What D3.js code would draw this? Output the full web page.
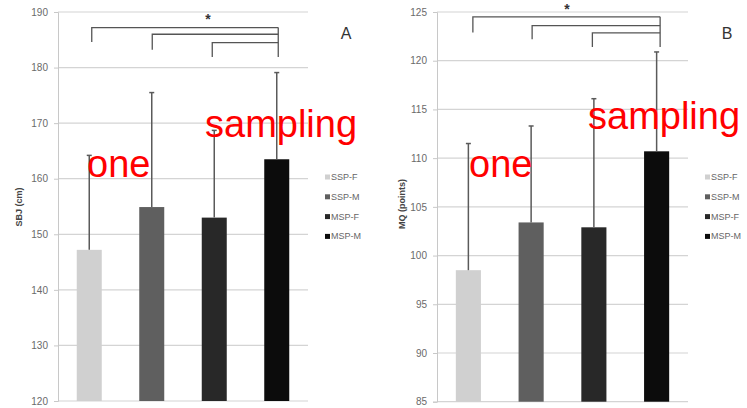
<!DOCTYPE html>
<html><head><meta charset="utf-8">
<script src="https://cdn.jsdelivr.net/npm/d3@7"></script>
<style>body{margin:0;background:#fff}svg{display:block}</style>
</head><body>
<svg id="c" width="747" height="408"></svg>
<script>
const categories = ["SSP-F","SSP-M","MSP-F","MSP-M"];
const colors = ["#d0d0d0","#5f5f5f","#282828","#0c0c0c"];
const sbjMeans = [147.2, 154.9, 153.0, 163.5];
const sbjSD = [17.0, 20.6, 15.7, 15.6];
const sbjTicks = [120,130,140,150,160,170,180,190];
const mqMeans = [98.5, 103.4, 102.9, 110.7];
const mqSD = [13.0, 9.9, 13.2, 10.2];
const mqTicks = [85,90,95,100,105,110,115,120,125];
// bracket annotations: [from category, to category, level value, left-leg end value]
const sbjBrackets = [[0,3,187.2,184.6],[1,3,186.0,183.2],[2,3,184.5,181.9]];
const mqBrackets = [[0,3,124.5,122.9],[1,3,123.6,122.2],[2,3,122.85,121.4]];
const overlayWords = ["one","sampling"];

const svg = d3.select("#c");
const FONT = "'Liberation Sans', Arial, sans-serif";

function panel(o){
  const x = d3.scaleBand().domain(categories).range([o.x0,o.x1]).paddingInner(0.6).paddingOuter(0.3);
  const y = d3.scaleLinear().domain(o.domain).range([o.y0,o.y1]);
  const g = svg.append("g");
  g.selectAll(".grid").data(o.ticks).join("line")
    .attr("x1",o.x0).attr("x2",o.x1).attr("y1",d=>y(d)).attr("y2",d=>y(d))
    .attr("stroke","#d4d4d4").attr("stroke-width",1.2);
  const ax = g.append("g").attr("transform",`translate(${o.x0},0)`)
    .call(d3.axisLeft(y).tickValues(o.ticks).tickSize(4).tickPadding(6));
  ax.select(".domain").attr("stroke","#c8c8c8");
  ax.selectAll(".tick line").attr("stroke","#c8c8c8");
  ax.selectAll("text").attr("fill","#6a6a6a").style("font-family",FONT).style("font-size","10px");
  g.selectAll(".bar").data(o.means).join("rect")
    .attr("x",(d,i)=>x(categories[i])).attr("width",x.bandwidth())
    .attr("y",d=>y(d)).attr("height",d=>y(o.domain[0])-y(d))
    .attr("fill",(d,i)=>colors[i]);
  const cx = i=>x(categories[i])+x.bandwidth()/2;
  o.means.forEach((m,i)=>{
    g.append("line").attr("x1",cx(i)).attr("x2",cx(i)).attr("y1",y(m)).attr("y2",y(m+o.sd[i]))
      .attr("stroke","#5a5a5a").attr("stroke-width",1.5);
    g.append("line").attr("x1",cx(i)-2.5).attr("x2",cx(i)+2.5).attr("y1",y(m+o.sd[i])).attr("y2",y(m+o.sd[i]))
      .attr("stroke","#5a5a5a").attr("stroke-width",1.5);
  });
  const bx = i=>cx(i)+o.boff[i];
  o.brackets.forEach(b=>{
    g.append("path").attr("d",`M${bx(b[0])},${y(b[3])}V${y(b[2])}H${bx(b[1])}`)
      .attr("fill","none").attr("stroke","#555").attr("stroke-width",1.3);
  });
  const lowest = d3.min(o.brackets,b=>b[3]);
  const highest = d3.max(o.brackets,b=>b[2]);
  g.append("line").attr("x1",bx(3)).attr("x2",bx(3)).attr("y1",y(highest)).attr("y2",y(lowest))
    .attr("stroke","#555").attr("stroke-width",1.3);
  g.append("text").attr("x",o.starX).attr("y",y(o.starV)+6).attr("text-anchor","middle")
    .style("font-family",FONT).style("font-size","14px").style("font-weight","bold").attr("fill","#333").text("*");
  g.append("text").attr("x",o.letterX).attr("y",39).attr("text-anchor","middle")
    .style("font-family",FONT).style("font-size","16px").attr("fill","#333").text(o.letter);
  g.append("text").attr("transform",`translate(${o.titleX},${o.titleY}) rotate(-90)`).attr("text-anchor","middle")
    .style("font-family",FONT).style("font-size","9px").style("font-weight","bold").attr("fill","#444").text(o.title);
  categories.forEach((c,i)=>{
    const ly = 177 + i*19.8;
    g.append("rect").attr("x",o.legX).attr("y",ly-2.5).attr("width",5).attr("height",5).attr("fill",colors[i]);
    g.append("text").attr("x",o.legX+6).attr("y",ly+3).style("font-family",FONT).style("font-size","9px")
      .attr("fill","#666").text(c);
  });
  g.append("text").attr("x",o.oneX).attr("y",177).style("font-family",FONT).style("font-size","38px")
    .attr("fill","#ff0000").text(overlayWords[0]);
  g.append("text").attr("x",o.sampX).attr("y",o.sampY).style("font-family",FONT).style("font-size","38px")
    .attr("fill","#ff0000").text(overlayWords[1]);
}

panel({x0:58,x1:308,y0:401,y1:12,domain:[120,190],ticks:sbjTicks,means:sbjMeans,sd:sbjSD,
  brackets:sbjBrackets,boff:[2.5,0.5,-2,1.5],starX:208,starV:188.9,letter:"A",letterX:346,
  title:"SBJ (cm)",titleX:22,titleY:207,legX:325,oneX:87,sampX:205,sampY:137});
panel({x0:437,x1:688,y0:401.7,y1:12,domain:[85,125],ticks:mqTicks,means:mqMeans,sd:mqSD,
  brackets:mqBrackets,boff:[4.5,1,-1.5,3.5],starX:567,starV:125.4,letter:"B",letterX:727,
  title:"MQ (points)",titleX:405,titleY:204,legX:705,oneX:469,sampX:588,sampY:129});
</script>
</body></html>
